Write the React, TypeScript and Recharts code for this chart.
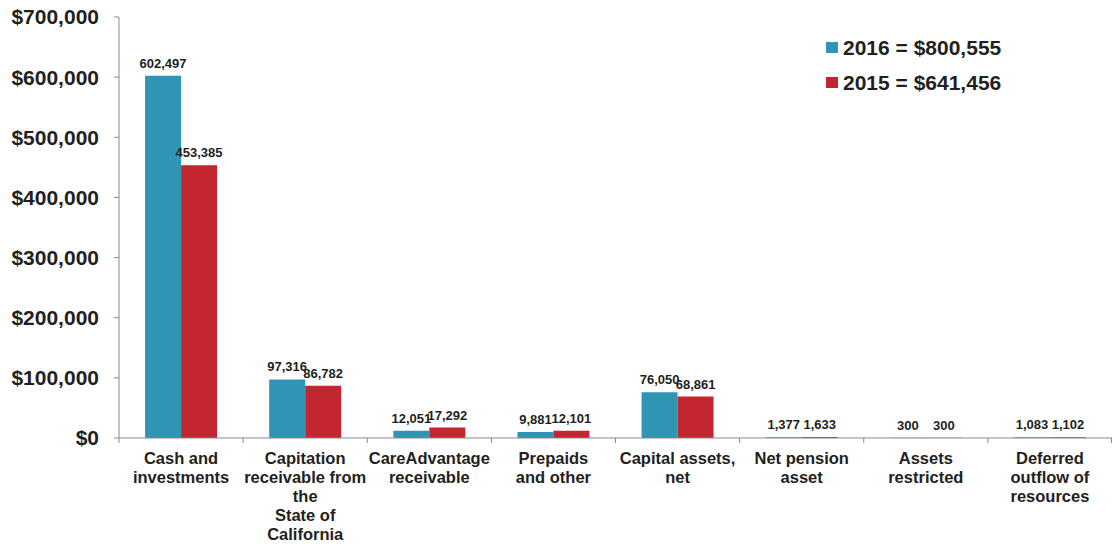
import React from 'react';
import { BarChart, Bar, XAxis, YAxis, Legend, LabelList } from 'recharts';

const categories = [
  'Cash and\ninvestments',
  'Capitation\nreceivable from\nthe\nState of\nCalifornia',
  'CareAdvantage\nreceivable',
  'Prepaids\nand other',
  'Capital assets,\nnet',
  'Net pension\nasset',
  'Assets\nrestricted',
  'Deferred\noutflow of\nresources',
];
const values2016 = [602497, 97316, 12051, 9881, 76050, 1377, 300, 1083];
const values2015 = [453385, 86782, 17292, 12101, 68861, 1633, 300, 1102];
const seriesNames = ['2016 = $800,555', '2015 = $641,456'];
const yTicks = [0, 100000, 200000, 300000, 400000, 500000, 600000, 700000];

const data = categories.map((c, i) => ({ name: c, v2016: values2016[i], v2015: values2015[i] }));

const TEAL = '#2E95B5';
const RED = '#C4262F';
const TEXT = '#231F20';
const AXIS = '#8A8A8A';
const FONT = '"Liberation Sans", Arial, Helvetica, sans-serif';

const TICK_SIZE = 5;

const CategoryTick = (props: any) => {
  const { x, y, payload, index, width, visibleTicksCount } = props;
  const lines = String(payload.value).split('\n');
  const band = width / visibleTicksCount;
  const axisY = y - TICK_SIZE;
  const isLast = index === visibleTicksCount - 1;
  return (
    <g>
      <line x1={x - band / 2} x2={x - band / 2} y1={axisY} y2={axisY + TICK_SIZE} stroke={AXIS} strokeWidth={1} />
      {isLast && (
        <line x1={x + band / 2 - 0.5} x2={x + band / 2 - 0.5} y1={axisY} y2={axisY + TICK_SIZE} stroke={AXIS} strokeWidth={1} />
      )}
      <text x={x} y={y} textAnchor="middle" fill={TEXT} fontSize={16.5} fontWeight="bold" fontFamily={FONT}>
        {lines.map((l, i) => (
          <tspan key={i} x={x} dy={i === 0 ? 21 : 19}>
            {l}
          </tspan>
        ))}
      </text>
    </g>
  );
};

const LegendContent = (props: any) => {
  const payload = [...(props.payload || [])].sort(
    (a: any, b: any) => seriesNames.indexOf(a.value) - seriesNames.indexOf(b.value)
  );
  return (
    <div style={{ fontFamily: FONT, fontWeight: 'bold', fontSize: 21, color: TEXT }}>
      {payload.map((p: any, i: number) => (
        <div key={i} style={{ display: 'flex', alignItems: 'center', height: 35, whiteSpace: 'nowrap' }}>
          <span style={{ display: 'inline-block', width: 12, height: 11, background: p.color, marginRight: 5 }} />
          <span>{p.value}</span>
        </div>
      ))}
    </div>
  );
};

const fmt = (v: any) => Number(v).toLocaleString('en-US');

export default function App() {
  return (
    <div style={{ position: 'absolute', left: 0, top: 0, width: 1112, height: 544, background: '#fff' }}>
      <BarChart
        width={1112}
        height={544}
        data={data}
        margin={{ top: 17, right: 0, bottom: 6, left: 0 }}
        barGap={0}
        barCategoryGap="21%"
      >
        <XAxis
          dataKey="name"
          interval={0}
          height={100}
          tickSize={TICK_SIZE}
          tickMargin={0}
          tickLine={false}
          axisLine={{ stroke: AXIS, strokeWidth: 1 }}
          tick={<CategoryTick />}
        />
        <YAxis
          width={119}
          domain={[0, 700000]}
          ticks={yTicks}
          interval={0}
          tickSize={5}
          tickMargin={15}
          axisLine={{ stroke: AXIS, strokeWidth: 1 }}
          tickLine={{ stroke: AXIS, strokeWidth: 1 }}
          tick={{ fill: TEXT, fontSize: 21, fontWeight: 'bold', fontFamily: FONT }}
          tickFormatter={(v: number) => '$' + v.toLocaleString('en-US')}
        />
        <Legend
          layout="vertical"
          align="center"
          verticalAlign="middle"
          itemSorter={null as any}
          wrapperStyle={{ left: 826, top: 30, width: 260 }}
          content={<LegendContent />}
        />
        <Bar dataKey="v2016" name={seriesNames[0]} fill={TEAL} isAnimationActive={false}>
          <LabelList dataKey="v2016" position="top" offset={8} formatter={fmt} fill={TEXT} fontSize={13} fontWeight="bold" fontFamily={FONT} />
        </Bar>
        <Bar dataKey="v2015" name={seriesNames[1]} fill={RED} isAnimationActive={false}>
          <LabelList dataKey="v2015" position="top" offset={8} formatter={fmt} fill={TEXT} fontSize={13} fontWeight="bold" fontFamily={FONT} />
        </Bar>
      </BarChart>
    </div>
  );
}
